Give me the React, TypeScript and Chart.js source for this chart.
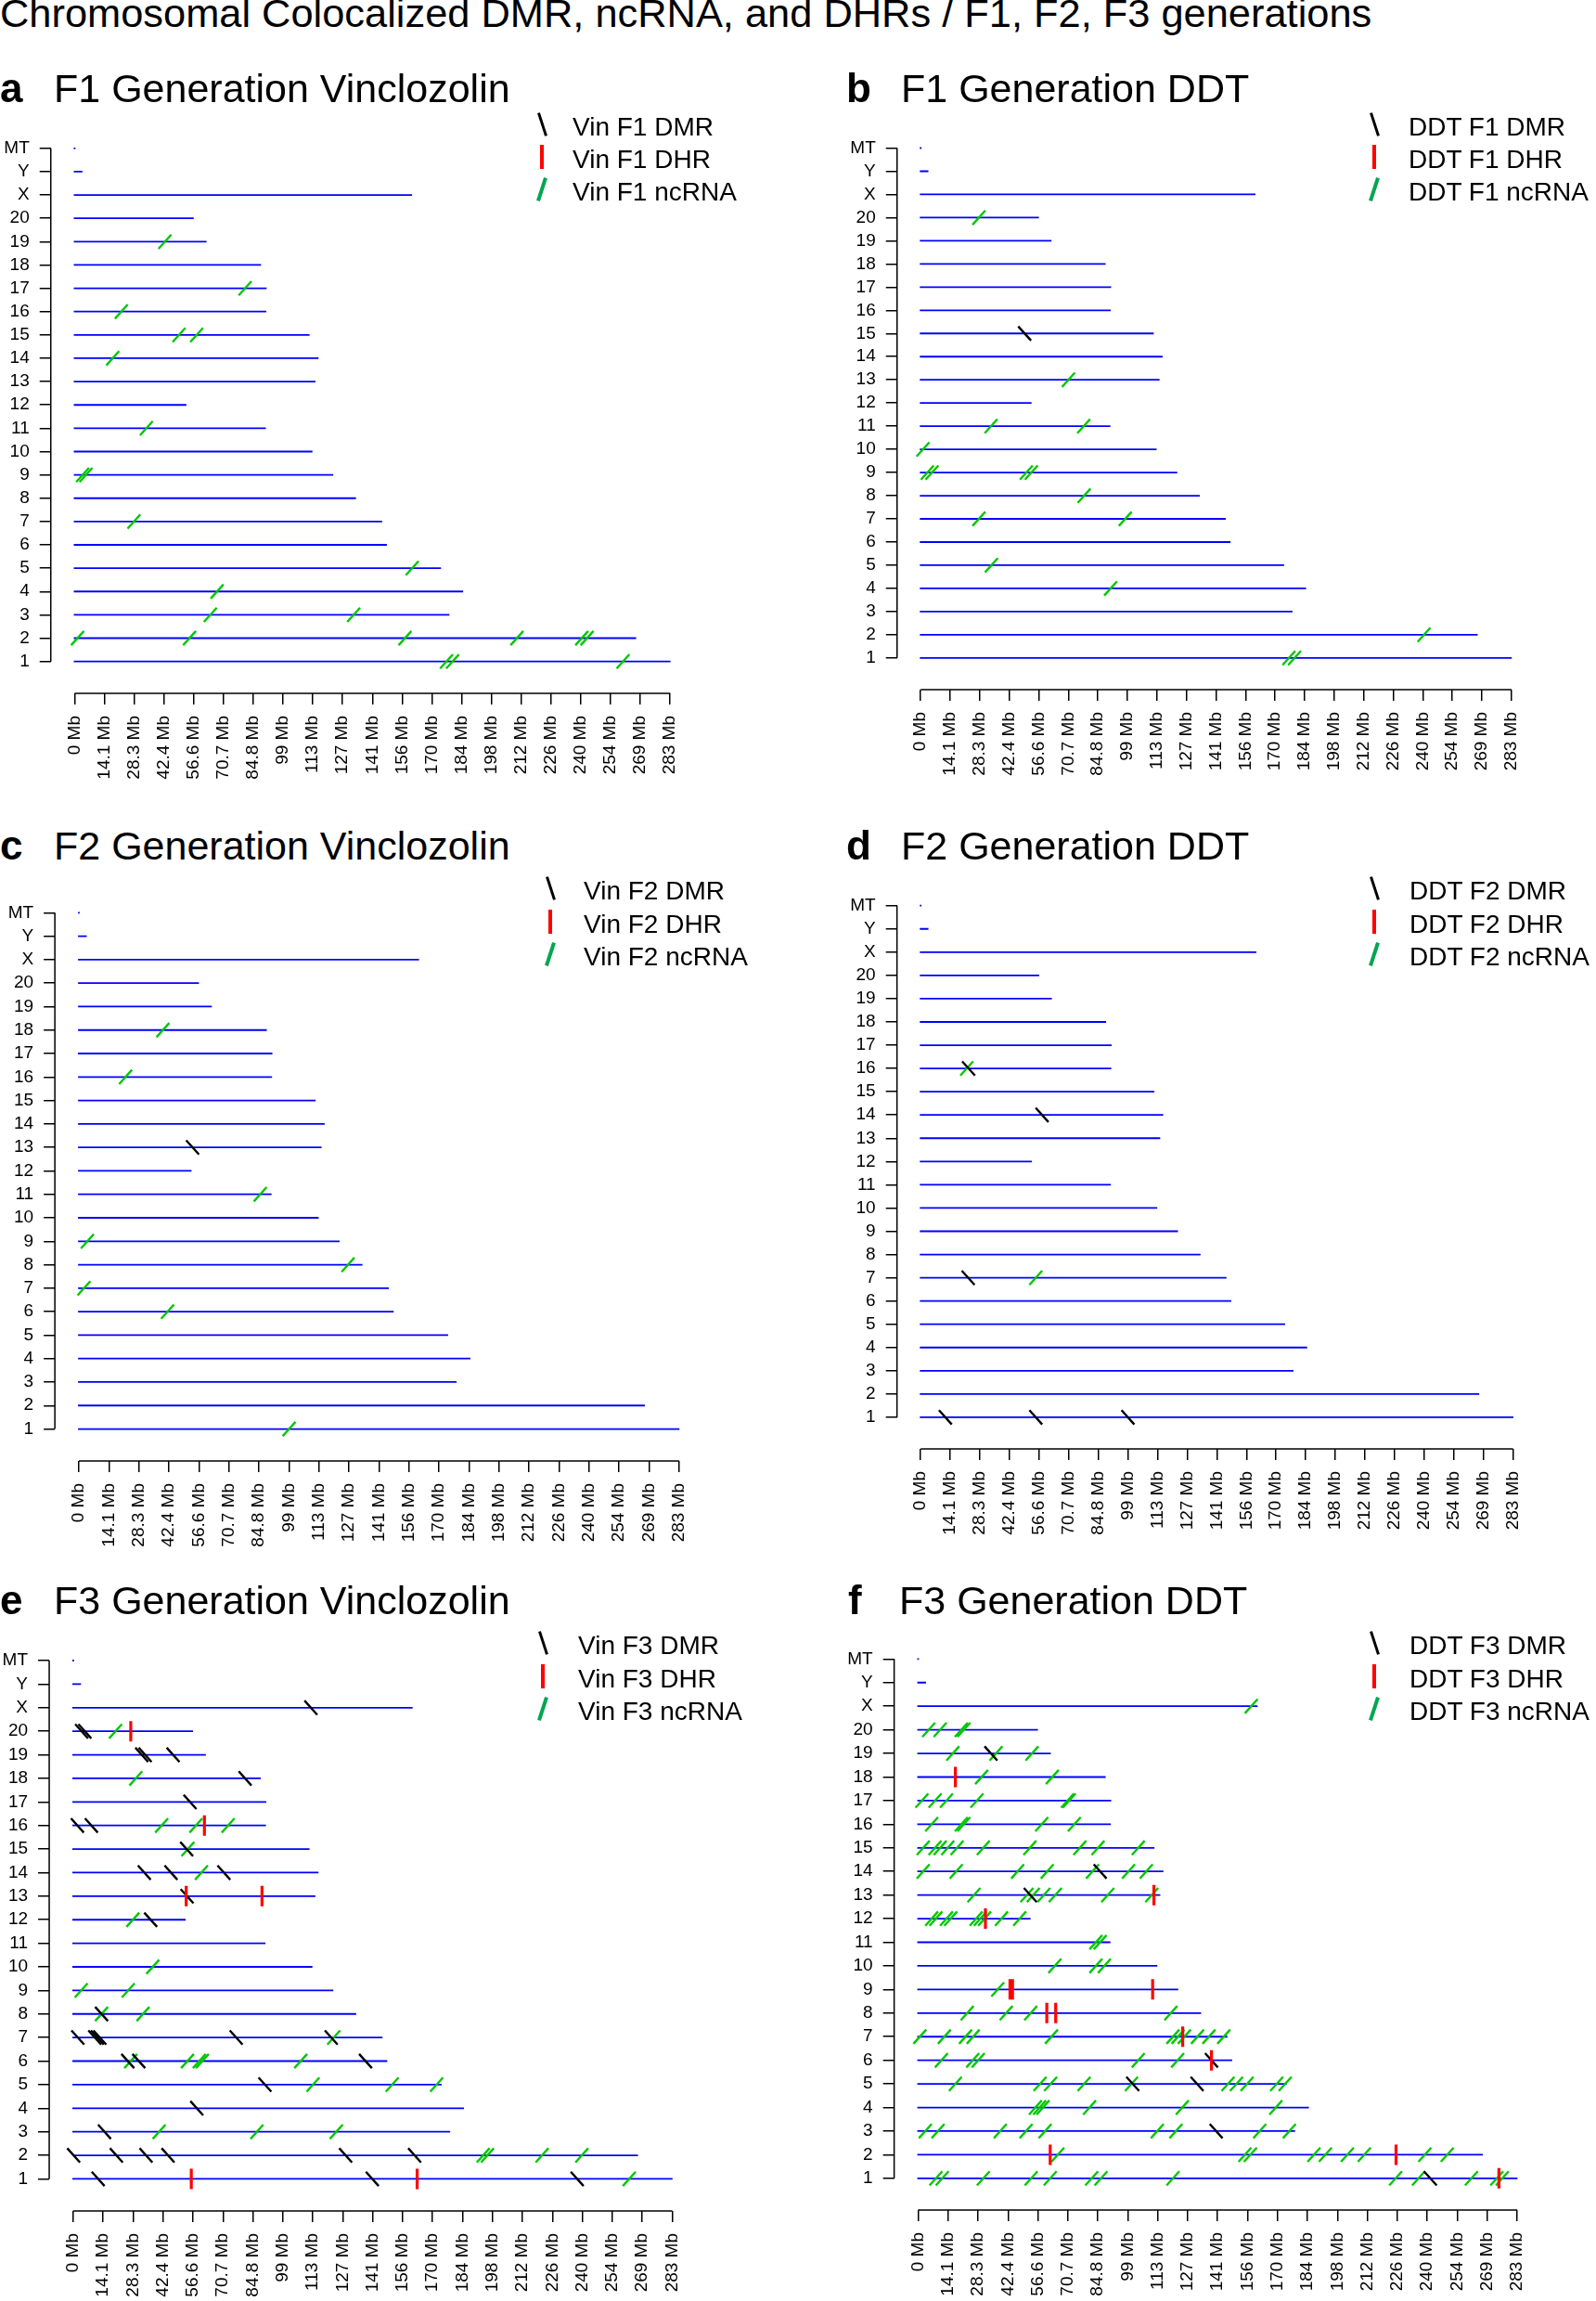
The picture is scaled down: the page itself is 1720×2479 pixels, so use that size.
import React, { useEffect, useRef } from 'react';
import { Chart, registerables } from 'chart.js';

Chart.register(...registerables);

// ---------- data ----------
const CHROMOSOMES = ['1','2','3','4','5','6','7','8','9','10','11','12','13','14','15','16','17','18','19','20','X','Y','MT'];
const CHROMOSOME_LENGTHS_MB = [282.76, 266.44, 177.70, 184.23, 173.71, 147.99, 145.73, 133.31, 122.51, 112.63, 90.46, 52.72, 114.03, 115.49, 111.25, 90.67, 90.84, 88.20, 62.28, 56.21, 159.97, 3.31, 0.016];
const X_TICK_VALUES = [0, 14.15, 28.3, 42.45, 56.6, 70.75, 84.9, 99.05, 113.2, 127.35, 141.5, 155.65, 169.8, 183.95, 198.1, 212.25, 226.4, 240.55, 254.7, 268.85, 283];
const X_TICK_LABELS = ['0 Mb','14.1 Mb','28.3 Mb','42.4 Mb','56.6 Mb','70.7 Mb','84.8 Mb','99 Mb','113 Mb','127 Mb','141 Mb','156 Mb','170 Mb','184 Mb','198 Mb','212 Mb','226 Mb','240 Mb','254 Mb','269 Mb','283 Mb'];

type Mark = [string, number];

const VIN_F1_DMR: Mark[] = [];
const VIN_F1_DHR: Mark[] = [];
const VIN_F1_NCRNA: Mark[] = [['19',42.9],['17',81.0],['16',22.2],['15',49.6],['15',58.0],['14',18.1],['11',34.1],['9',3.8],['9',5.4],['7',28.2],['5',160.4],['4',67.7],['3',64.5],['3',132.6],['2',1.4],['2',54.6],['2',157.0],['2',210.2],['2',241.0],['2',243.5],['1',176.7],['1',179.6],['1',260.6]];

const DDT_F1_DMR: Mark[] = [['15',49.8]];
const DDT_F1_DHR: Mark[] = [];
const DDT_F1_NCRNA: Mark[] = [['20',27.9],['13',70.8],['11',33.7],['11',78.1],['10',1.1],['9',3.2],['9',5.4],['9',50.6],['9',53.0],['8',78.3],['7',27.9],['7',98.0],['5',33.9],['4',91.0],['2',241.1],['1',176.4],['1',179.1]];

const VIN_F2_DMR: Mark[] = [['13',53.6]];
const VIN_F2_DHR: Mark[] = [];
const VIN_F2_NCRNA: Mark[] = [['18',39.6],['16',22.0],['11',85.5],['9',4.0],['8',126.9],['7',2.4],['6',41.8],['1',99.1]];

const DDT_F2_DMR: Mark[] = [['16',22.9],['14',58.0],['7',22.7],['1',11.8],['1',55.0],['1',99.0]];
const DDT_F2_DHR: Mark[] = [];
const DDT_F2_NCRNA: Mark[] = [['16',22.0],['7',55.0]];

const VIN_F3_DMR: Mark[] = [['X',112.3],['20',4.0],['20',5.5],['19',32.4],['19',34.0],['19',47.2],['18',81.2],['17',55.2],['16',2.0],['16',8.6],['15',53.6],['14',33.6],['14',46.2],['14',71.2],['13',53.8],['12',36.6],['8',13.4],['7',2.2],['7',10.2],['7',11.4],['7',12.6],['7',77.0],['7',121.9],['6',25.8],['6',31.0],['6',138.1],['5',90.6],['4',58.4],['3',14.8],['2',0.2],['2',20.4],['2',34.4],['2',44.8],['2',128.7],['2',161.3],['1',11.8],['1',141.3],['1',238.1]];
const VIN_F3_DHR: Mark[] = [['20',27.2],['16',62.0],['13',53.4],['13',89.2],['1',55.8],['1',162.5]];
const VIN_F3_NCRNA: Mark[] = [['20',20.0],['18',29.6],['16',41.8],['16',58.0],['16',73.2],['15',54.2],['14',60.6],['12',28.2],['10',37.6],['9',3.8],['9',26.0],['8',13.4],['8',33.0],['7',123.1],['6',27.2],['6',54.0],['6',59.6],['6',61.0],['6',107.5],['5',113.3],['5',150.7],['5',171.7],['3',40.6],['3',86.8],['3',124.3],['2',193.7],['2',195.7],['2',221.5],['2',240.3],['1',262.7]];

const DDT_F3_DMR: Mark[] = [['19',34.4],['14',86.0],['13',53.0],['6',138.6],['5',101.4],['5',131.8],['3',140.8],['1',242.0]];
const DDT_F3_DHR: Mark[] = [['18',17.6],['13',111.4],['12',31.8],['9',43.4],['9',44.6],['9',110.8],['8',60.8],['8',65.0],['7',125.0],['6',138.6],['2',62.4],['2',225.8],['1',274.4]];
const DDT_F3_NCRNA: Mark[] = [
  ['X',157.4],
  ['20',5.0],['20',10.4],['20',20.4],['20',21.6],
  ['19',16.4],['19',36.8],['19',53.8],
  ['18',30.0],['18',63.4],
  ['17',1.8],['17',8.0],['17',13.4],['17',27.8],['17',70.6],['17',71.4],
  ['16',6.4],['16',20.4],['16',21.6],['16',58.4],['16',73.8],
  ['15',2.4],['15',8.0],['15',10.4],['15',14.0],['15',18.4],['15',30.8],['15',52.8],['15',76.4],['15',85.0],['15',104.0],
  ['14',2.4],['14',18.0],['14',47.0],['14',61.0],['14',82.4],['14',99.4],['14',107.8],
  ['13',26.4],['13',51.4],['13',54.4],['13',59.4],['13',64.8],['13',89.6],['13',110.4],
  ['12',6.4],['12',8.4],['12',13.4],['12',15.4],['12',27.4],['12',29.4],['12',31.4],['12',39.4],['12',48.0],
  ['11',84.0],['11',86.0],
  ['10',64.6],['10',84.0],['10',88.0],
  ['9',37.6],
  ['8',23.2],['8',41.6],['8',53.2],['8',119.4],
  ['7',0.8],['7',12.4],['7',22.4],['7',26.0],['7',63.0],['7',120.4],['7',122.8],['7',125.8],['7',132.0],['7',137.4],['7',144.4],
  ['6',11.0],['6',25.8],['6',28.4],['6',104.0],['6',122.6],
  ['5',17.6],['5',57.6],['5',62.6],['5',78.4],['5',100.8],['5',146.4],['5',150.4],['5',155.4],['5',169.4],['5',173.4],
  ['4',55.4],['4',57.4],['4',59.0],['4',81.0],['4',124.8],['4',169.0],
  ['3',3.4],['3',9.4],['3',38.8],['3',51.0],['3',60.0],['3',113.0],['3',121.8],['3',161.4],['3',175.4],
  ['2',66.0],['2',154.4],['2',157.0],['2',187.0],['2',192.4],['2',202.8],['2',210.8],['2',239.4],['2',250.0],
  ['1',8.4],['1',11.4],['1',30.8],['1',53.4],['1',62.4],['1',82.0],['1',86.4],['1',120.4],['1',225.6],['1',236.4],['1',261.4],['1',273.4],['1',276.0]
];

// ---------- styling / layout ----------
const FONT = '"Liberation Sans", Arial, Helvetica, sans-serif';
const CHROM_BLUE = '#0000ff';
const DMR_COLOR = '#000000';
const DHR_COLOR = '#ff0000';
const NCRNA_COLOR = '#00c800';
const LEGEND_GREEN = '#00a651';
const X_PAD_MB = 11.32;
const PAD_TOP = 20;
const PAD_RIGHT = 10;
const HX = 110;
const AXIS_GAP = 34.6;

const PANELS = [
  { letter: 'a', title: 'F1 Generation Vinclozolin', prefix: 'Vin F1', dmr: VIN_F1_DMR, dhr: VIN_F1_DHR, nc: VIN_F1_NCRNA,
    left: 0, x0: 80.5, x283: 724.5, mt: 157.5, row1: 712.5, letterX: 0, titleX: 58, titleBase: 110, legMark: 584, legText: 617, legBase: [146.5, 182, 217] },
  { letter: 'b', title: 'F1 Generation DDT', prefix: 'DDT F1', dmr: DDT_F1_DMR, dhr: DDT_F1_DHR, nc: DDT_F1_NCRNA,
    left: 860, x0: 992.3, x283: 1631.3, mt: 157.2, row1: 708.7, letterX: 912, titleX: 971, titleBase: 110, legMark: 1481, legText: 1518, legBase: [146.5, 182, 217] },
  { letter: 'c', title: 'F2 Generation Vinclozolin', prefix: 'Vin F2', dmr: VIN_F2_DMR, dhr: VIN_F2_DHR, nc: VIN_F2_NCRNA,
    left: 0, x0: 85.1, x283: 734.2, mt: 981, row1: 1539.4, letterX: 0, titleX: 58, titleBase: 926, legMark: 593, legText: 629, legBase: [970, 1006, 1041] },
  { letter: 'd', title: 'F2 Generation DDT', prefix: 'DDT F2', dmr: DDT_F2_DMR, dhr: DDT_F2_DHR, nc: DDT_F2_NCRNA,
    left: 860, x0: 992.3, x283: 1633, mt: 973.4, row1: 1526.8, letterX: 912, titleX: 971, titleBase: 926, legMark: 1481, legText: 1519, legBase: [970, 1006, 1041] },
  { letter: 'e', title: 'F3 Generation Vinclozolin', prefix: 'Vin F3', dmr: VIN_F3_DMR, dhr: VIN_F3_DHR, nc: VIN_F3_NCRNA,
    left: 0, x0: 79, x283: 728, mt: 1786.7, row1: 2347.3, letterX: 0, titleX: 58, titleBase: 1739, legMark: 585, legText: 623, legBase: [1783, 1819, 1854] },
  { letter: 'f', title: 'F3 Generation DDT', prefix: 'DDT F3', dmr: DDT_F3_DMR, dhr: DDT_F3_DHR, nc: DDT_F3_NCRNA,
    left: 860, x0: 989.6, x283: 1638.8, mt: 1785, row1: 2346.7, letterX: 914, titleX: 969, titleBase: 1739, legMark: 1481, legText: 1519, legBase: [1783, 1819, 1854] },
];

type Panel = typeof PANELS[number];

const axisLinePlugin = {
  id: 'rAxisLines',
  afterDraw(chart: any) {
    const { ctx } = chart;
    const x = chart.scales.x;
    const y = chart.scales.y;
    ctx.save();
    ctx.strokeStyle = '#000';
    ctx.lineWidth = 1.5;
    ctx.beginPath();
    ctx.moveTo(x.getPixelForValue(X_TICK_VALUES[0]), x.top);
    ctx.lineTo(x.getPixelForValue(X_TICK_VALUES[X_TICK_VALUES.length - 1]), x.top);
    ctx.moveTo(y.right, y.getPixelForValue(1));
    ctx.lineTo(y.right, y.getPixelForValue(CHROMOSOMES.length));
    ctx.stroke();
    ctx.restore();
  },
};

function toPoints(marks: Mark[]) {
  return marks.map(([c, mb]) => ({ x: mb, y: CHROMOSOMES.indexOf(c) + 1 }));
}

function geometry(p: Panel) {
  const rowH = (p.row1 - p.mt) / 22;
  const ppm = (p.x283 - p.x0) / 283;
  const axisX = p.x0 - X_PAD_MB * ppm;
  const top = Math.round(p.mt - 40);
  const height = Math.round(p.row1 + AXIS_GAP + HX - top);
  const width = 860;
  const chartBottom = top + height - HX;
  const chartTop = top + PAD_TOP;
  return {
    top, height, width,
    yWidth: axisX - p.left,
    xmin: -X_PAD_MB,
    xmax: (p.left + width - PAD_RIGHT - p.x0) / ppm,
    ymin: 1 - (chartBottom - p.row1) / rowH,
    ymax: 1 + (p.row1 - chartTop) / rowH,
  };
}

function ChromPanel({ p }: { p: Panel }) {
  const ref = useRef<HTMLCanvasElement | null>(null);
  const g = geometry(p);
  useEffect(() => {
    if (!ref.current) return;
    const markDs = (marks: Mark[], color: string, rot: number, radius: number, bw: number) => ({
      type: 'scatter' as const,
      data: toPoints(marks),
      showLine: false,
      pointStyle: 'line',
      pointRotation: rot,
      pointRadius: radius,
      pointBorderWidth: bw,
      pointBorderColor: color,
      borderColor: color,
      backgroundColor: color,
    });
    const chromDs = CHROMOSOMES.map((c, i) => ({
      type: 'scatter' as const,
      data: [{ x: 0, y: i + 1 }, { x: CHROMOSOME_LENGTHS_MB[i], y: i + 1 }],
      showLine: true,
      borderColor: CHROM_BLUE,
      borderWidth: 1.8,
      borderCapStyle: 'square',
      pointRadius: 0,
      fill: false,
    }));
    const datasets: any[] = [
      markDs(p.dhr, DHR_COLOR, 90, 11, 3.2),
      markDs(p.dmr, DMR_COLOR, 48, 10.3, 2.4),
      markDs(p.nc, NCRNA_COLOR, -48, 10.3, 2.4),
      ...chromDs,
    ];
    const tickFont = { family: FONT, size: 19 };
    const grid = { drawOnChartArea: false, drawTicks: true, tickLength: 12, color: '#000', lineWidth: 1.5 };
    const chart = new Chart(ref.current, {
      type: 'scatter',
      data: { datasets },
      options: {
        animation: false,
        responsive: false,
        devicePixelRatio: 1,
        events: [],
        layout: { padding: { top: PAD_TOP, right: PAD_RIGHT, left: 0, bottom: 0 } },
        plugins: { legend: { display: false }, tooltip: { enabled: false }, title: { display: false } },
        scales: {
          x: {
            type: 'linear', min: g.xmin, max: g.xmax, bounds: 'data',
            afterBuildTicks: (s: any) => { s.ticks = X_TICK_VALUES.map((v) => ({ value: v })); },
            afterFit: (s: any) => { s.height = HX; },
            ticks: { autoSkip: false, minRotation: 90, maxRotation: 90, padding: 12, color: '#000', font: tickFont,
              callback: (_v: any, i: number) => X_TICK_LABELS[i] },
            grid, border: { display: false },
          },
          y: {
            type: 'linear', min: g.ymin, max: g.ymax, bounds: 'data',
            afterBuildTicks: (s: any) => { s.ticks = CHROMOSOMES.map((_c, i) => ({ value: i + 1 })); },
            afterFit: (s: any) => { s.width = g.yWidth; },
            ticks: { autoSkip: false, padding: 11, color: '#000', font: tickFont,
              callback: (v: any) => CHROMOSOMES[Math.round(Number(v)) - 1] },
            grid, border: { display: false },
          },
        },
      } as any,
      plugins: [axisLinePlugin],
    });
    return () => chart.destroy();
  }, []);
  return (
    <canvas ref={ref} width={g.width} height={g.height}
      style={{ position: 'absolute', left: p.left, top: g.top, width: g.width, height: g.height }} />
  );
}

function Txt({ x, base, size, bold, children }: { x: number; base: number; size: number; bold?: boolean; children: any }) {
  return (
    <div style={{ position: 'absolute', left: x, top: base - 0.8465 * size, fontSize: size, lineHeight: `${size}px`,
      fontFamily: FONT, fontWeight: bold ? 'bold' : 'normal', whiteSpace: 'nowrap', color: '#000' }}>{children}</div>
  );
}

function LegendMark({ cx, base, color, angle, w }: { cx: number; base: number; color: string; angle: number; w: number }) {
  return (
    <div style={{ position: 'absolute', left: cx - w / 2, top: base - 26, width: w, height: 26, background: color,
      transform: `rotate(${angle}deg)` }} />
  );
}

function PanelLabels({ p }: { p: Panel }) {
  return (
    <>
      <Txt x={p.letterX} base={p.titleBase} size={44} bold>{p.letter}</Txt>
      <Txt x={p.titleX} base={p.titleBase} size={43}>{p.title}</Txt>
      <LegendMark cx={p.legMark} base={p.legBase[0]} color={DMR_COLOR} angle={-18} w={3} />
      <LegendMark cx={p.legMark} base={p.legBase[1]} color={DHR_COLOR} angle={0} w={4} />
      <LegendMark cx={p.legMark} base={p.legBase[2]} color={LEGEND_GREEN} angle={18} w={4} />
      <Txt x={p.legText} base={p.legBase[0]} size={28}>{p.prefix} DMR</Txt>
      <Txt x={p.legText} base={p.legBase[1]} size={28}>{p.prefix} DHR</Txt>
      <Txt x={p.legText} base={p.legBase[2]} size={28}>{p.prefix} ncRNA</Txt>
    </>
  );
}

export default function App() {
  return (
    <div style={{ position: 'absolute', left: 0, top: 0, width: 1720, height: 2479, background: '#fff', overflow: 'hidden' }}>
      <Txt x={0} base={30} size={43.4}>Chromosomal Colocalized DMR, ncRNA, and DHRs / F1, F2, F3 generations</Txt>
      {PANELS.map((p) => <ChromPanel key={p.letter} p={p} />)}
      {PANELS.map((p) => <PanelLabels key={'l' + p.letter} p={p} />)}
    </div>
  );
}
